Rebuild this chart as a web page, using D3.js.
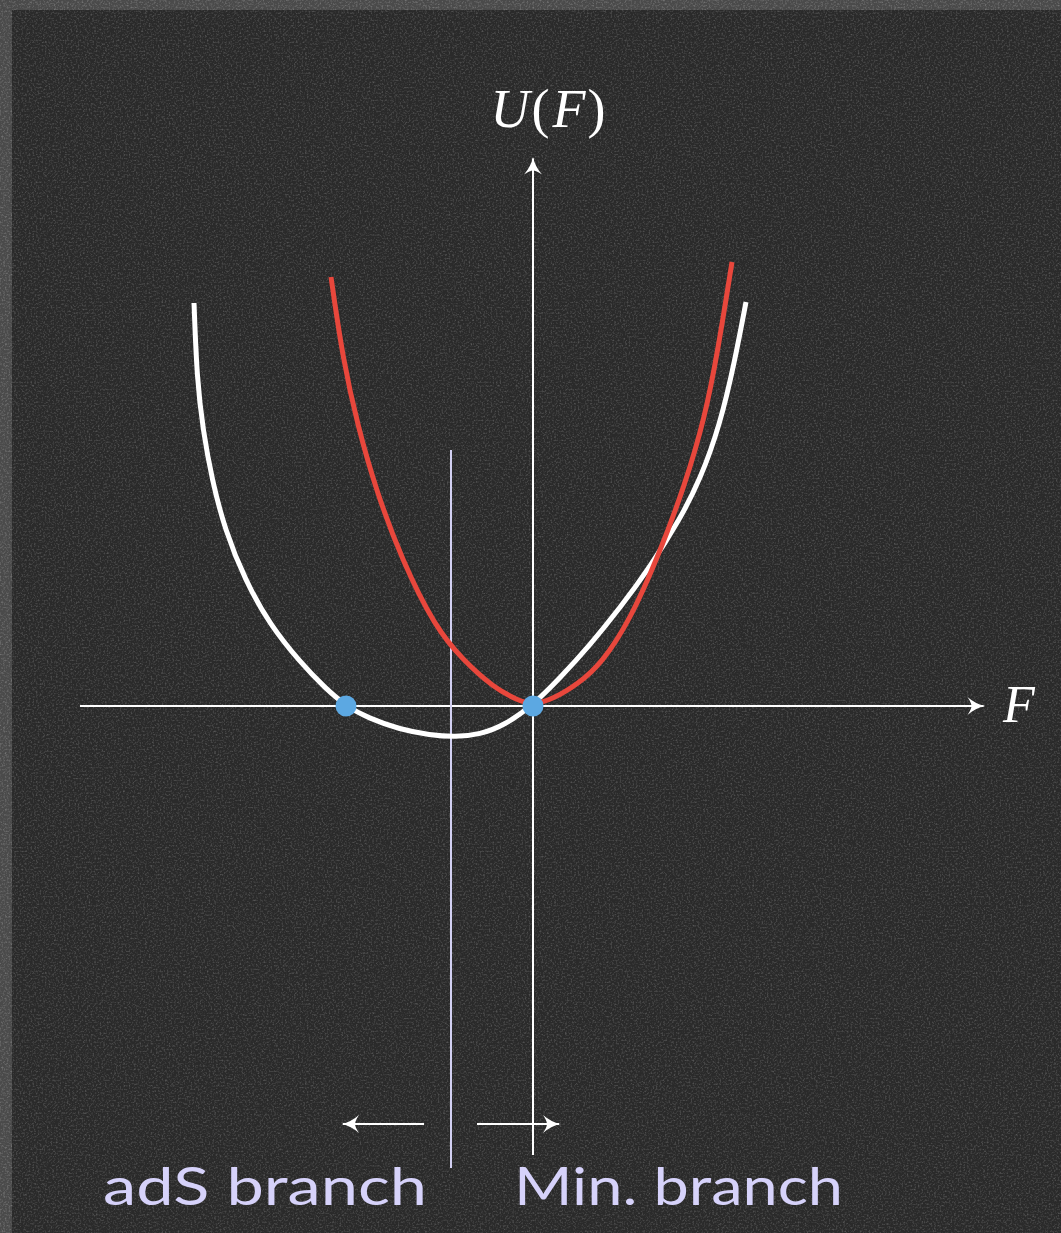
<!DOCTYPE html>
<html>
<head>
<meta charset="utf-8">
<script src="https://cdn.jsdelivr.net/npm/d3@7"></script>
<style>
  html, body { margin: 0; padding: 0; background: #4a4a4a; }
  svg { display: block; }
</style>
</head>
<body>
<script>
// Potential U(F): two curves sampled along F
const whiteCurve = [
  [-3.39, 4.03], [-3.36, 3.26], [-3.30, 2.76], [-3.21, 2.26], [-3.08, 1.76],
  [-2.88, 1.26], [-2.63, 0.81], [-2.33, 0.44], [-2.08, 0.18], [-1.87, 0.00],
  [-1.65, -0.12], [-1.33, -0.235], [-1.03, -0.29], [-0.78, -0.31], [-0.53, -0.285],
  [-0.28, -0.19], [0.00, 0.01], [0.27, 0.28], [0.57, 0.61], [0.87, 0.98],
  [1.17, 1.39], [1.47, 1.87], [1.67, 2.26], [1.87, 2.81], [2.02, 3.46], [2.13, 4.04]
];
const redCurve = [
  [-2.02, 4.29], [-1.90, 3.46], [-1.75, 2.79], [-1.56, 2.13], [-1.31, 1.46],
  [-0.98, 0.79], [-0.70, 0.46], [-0.40, 0.19], [-0.16, 0.06], [0.00, 0.01],
  [0.20, 0.07], [0.45, 0.22], [0.69, 0.43], [0.97, 0.86], [1.25, 1.49],
  [1.52, 2.21], [1.72, 2.89], [1.85, 3.56], [1.99, 4.44]
];
// Zeros of U marked with dots
const zeros = [-1.87, 0.00];
// Boundary between the two branches
const branchSplit = -0.82;
const branchLabels = ["adS branch", "Min. branch"];
const axisLabelX = "F";
const axisLabelY = ["U", "(", "F", ")"];

const W = 1061, H = 1233;
const x = d3.scaleLinear().domain([-4.53, 4.52]).range([80, 985]);
const y = d3.scaleLinear().domain([-4.49, 5.49]).range([1155, 157]);

const svg = d3.select("body").append("svg").attr("width", W).attr("height", H);
const defs = svg.append("defs");

// grainy chalkboard texture
const f = defs.append("filter").attr("id", "grain").attr("x", 0).attr("y", 0).attr("width", "100%").attr("height", "100%");
f.append("feTurbulence").attr("type", "fractalNoise").attr("baseFrequency", 0.55).attr("numOctaves", 2).attr("seed", 7).attr("result", "n");
f.append("feColorMatrix").attr("in", "n").attr("type", "matrix")
  .attr("values", "0 0 0 0 1  0 0 0 0 1  0 0 0 0 1  0 0 0 1.6 -0.75");
f.append("feComposite").attr("in2", "SourceGraphic").attr("operator", "in");

svg.append("rect").attr("width", W).attr("height", H).attr("fill", "#4a4a4a");
svg.append("rect").attr("width", W).attr("height", H).attr("fill", "#4a4a4a").attr("filter", "url(#grain)").attr("opacity", 0.35);
svg.append("rect").attr("x", 12).attr("y", 10).attr("width", W - 12).attr("height", H - 10).attr("fill", "#2a2a2a");
svg.append("rect").attr("x", 12).attr("y", 10).attr("width", W - 12).attr("height", H - 10)
  .attr("fill", "#2a2a2a").attr("filter", "url(#grain)").attr("opacity", 0.3);

// arrowhead marker
function marker(id, color) {
  defs.append("marker").attr("id", id)
    .attr("viewBox", "-20 -12 24 24").attr("refX", 0).attr("refY", 0)
    .attr("markerWidth", 24).attr("markerHeight", 24).attr("markerUnits", "userSpaceOnUse")
    .attr("orient", "auto")
    .append("path")
    .attr("d", "M1.5,0 Q-8,-2 -16,-9 Q-12,-3 -12,0 Q-12,3 -16,9 Q-8,2 1.5,0Z")
    .attr("fill", color);
}
marker("arrW", "#ffffff");

// axes
svg.append("line")
  .attr("x1", x(-4.53)).attr("y1", y(0)).attr("x2", x(4.52) - 1.5).attr("y2", y(0))
  .attr("stroke", "#fff").attr("stroke-width", 2).attr("marker-end", "url(#arrW)");
svg.append("line")
  .attr("x1", x(0)).attr("y1", y(-4.49)).attr("x2", x(0)).attr("y2", y(5.49) + 1.5)
  .attr("stroke", "#fff").attr("stroke-width", 2).attr("marker-end", "url(#arrW)");

// branch divider
svg.append("line")
  .attr("x1", x(branchSplit)).attr("y1", y(2.56)).attr("x2", x(branchSplit)).attr("y2", y(-4.62))
  .attr("stroke", "#d2d0f2").attr("stroke-width", 2);

// branch arrows
svg.append("line")
  .attr("x1", x(-1.09)).attr("y1", y(-4.18)).attr("x2", x(-1.90)).attr("y2", y(-4.18))
  .attr("stroke", "#fff").attr("stroke-width", 2).attr("marker-end", "url(#arrW)");
svg.append("line")
  .attr("x1", x(-0.56)).attr("y1", y(-4.18)).attr("x2", x(0.26)).attr("y2", y(-4.18))
  .attr("stroke", "#fff").attr("stroke-width", 2).attr("marker-end", "url(#arrW)");

// curves (B-spline through the sampled points for a smooth stroke)
const line = d3.line().x(d => x(d[0])).y(d => y(d[1])).curve(d3.curveBasis);
svg.append("path").datum(whiteCurve).attr("d", line)
  .attr("fill", "none").attr("stroke", "#ffffff").attr("stroke-width", 5);
svg.append("path").datum(redCurve).attr("d", line)
  .attr("fill", "none").attr("stroke", "#e8473c").attr("stroke-width", 5);

// zeros
svg.selectAll("circle.zero").data(zeros).join("circle").attr("class", "zero")
  .attr("cx", d => x(d)).attr("cy", y(0)).attr("r", 10.5).attr("fill", "#5ca8e2");

// axis labels
const ty = svg.append("text").attr("x", 548).attr("y", 127).attr("text-anchor", "middle")
  .attr("font-family", "'Liberation Serif', 'DejaVu Serif', serif").attr("font-size", 54).attr("fill", "#fff");
axisLabelY.forEach((s, i) => {
  ty.append("tspan").text(s).attr("font-style", (s === "(" || s === ")") ? "normal" : "italic")
    .attr("dx", i === 0 ? 0 : (s === "F" ? 3 : 2));
});
svg.append("text").attr("x", 1003).attr("y", 722).text(axisLabelX)
  .attr("font-family", "'Liberation Serif', 'DejaVu Serif', serif").attr("font-style", "italic")
  .attr("font-size", 52).attr("fill", "#fff");

// branch labels
const lab = svg.append("g").attr("font-family", "Lato, 'Open Sans', sans-serif").attr("font-weight", 400)
  .attr("font-size", 52).attr("fill", "#d6d2fa");
lab.append("text").attr("x", 103).attr("y", 1205).text(branchLabels[0])
  .attr("textLength", 324).attr("lengthAdjust", "spacingAndGlyphs");
lab.append("text").attr("x", 514).attr("y", 1205).text(branchLabels[1])
  .attr("textLength", 329).attr("lengthAdjust", "spacingAndGlyphs");
</script>
</body>
</html>
